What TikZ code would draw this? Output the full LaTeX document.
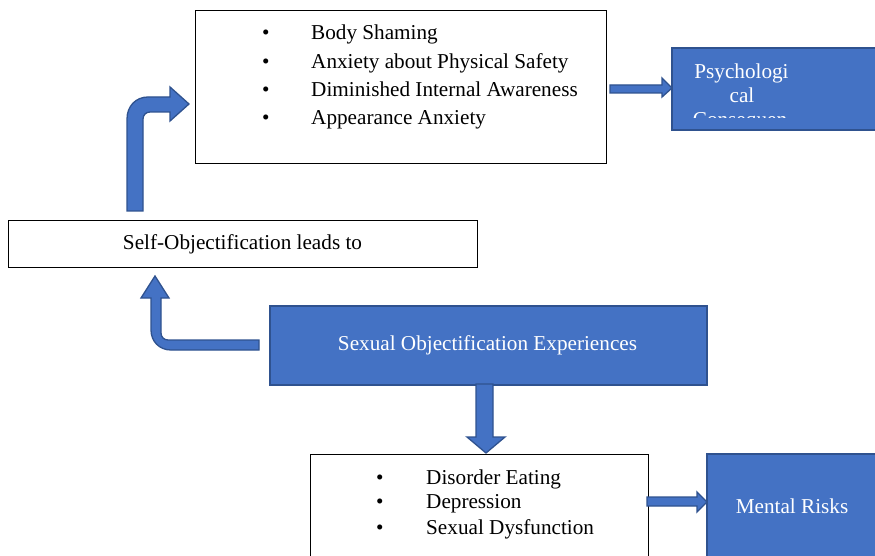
\documentclass[tikz,border=0pt]{standalone}
\usepackage{fontspec}
\setmainfont{Liberation Serif}
\definecolor{ablue}{HTML}{4472C4}
\definecolor{dblue}{HTML}{2F528F}
\begin{document}
\begin{tikzpicture}[x=1pt,y=-1pt,
  every node/.style={font=\fontsize{21.2}{28}\selectfont},
  whitebox/.style={draw=black,line width=0.9pt,fill=white,anchor=north west,inner sep=0pt},
  bluebox/.style={draw=dblue,line width=1.6pt,fill=ablue,anchor=north west,inner sep=0pt},
  blockarrow/.style={draw=dblue,line width=1.3pt,fill=ablue,line join=miter},
  txt/.style={anchor=base west,inner sep=0pt},
  wtxt/.style={text=white,inner sep=0pt}]
\useasboundingbox (0,0) rectangle (875,556);
\clip (0,0) rectangle (875,556);
\fill[white] (0,0) rectangle (875,556);

% top box
\node[whitebox,minimum width=411pt,minimum height=153pt] (top) at (195,10) {};
\node[txt] (b1) at (262,40) {•};
\node[txt] (b2) at (262,69) {•};
\node[txt] (b3) at (262,97) {•};
\node[txt] (b4) at (262,125) {•};
\node[txt] (t1) at (311,40) {Body Shaming};
\node[txt] (t2) at (311,69) {Anxiety about Physical Safety};
\node[txt] (t3) at (311,97) {Diminished Internal Awareness};
\node[txt] (t4) at (311,125) {Appearance Anxiety};

% psychological box
\node[bluebox,minimum width=215pt,minimum height=82pt] (psy) at (671,47) {};
\node[wtxt,anchor=base] (p1) at (741.5,79) {Psychologi};
\node[wtxt,anchor=base] (p2) at (742,103) {cal};
\begin{scope}
\clip (680,106) rectangle (800,118);
\node[wtxt,anchor=base] (p3) at (740,127) {Consequen};
\end{scope}

% arrow top -> psy
\draw[blockarrow] (610,85) -- (662,85) -- (662,78) -- (672,88) -- (662,97) -- (662,93) -- (610,93) -- cycle;

% self-objectification box
\node[whitebox,minimum width=469pt,minimum height=47pt] (self) at (8,220) {};
\node[anchor=center,inner sep=0pt] (selft) at (242.5,244.5) {Self-Objectification leads to};

% bent arrow self -> top
\draw[blockarrow] (127,211) -- (127,119) .. controls (127,106) and (136,97) .. (148,97) -- (170,97) -- (170,87) -- (189,104) -- (170,121) -- (170,112) -- (150,112) .. controls (146,112) and (143,115) .. (143,119) -- (143,211) -- cycle;

% sexual objectification box
\node[bluebox,minimum width=437pt,minimum height=79pt] (sex) at (269,305) {};
\node[wtxt,anchor=center] (sext) at (487.5,345.5) {Sexual Objectification Experiences};

% bent arrow sex -> self
\draw[blockarrow] (259,340) -- (168,340) .. controls (164,340) and (161,337) .. (161,333) -- (161,298) -- (169,298) -- (155,276) -- (141,298) -- (151,298) -- (151,330) .. controls (151,341) and (159,350) .. (171,350) -- (259,350) -- cycle;

% down arrow
\draw[blockarrow] (476,384) -- (493,384) -- (493,437) -- (505,437) -- (486,453) -- (467,437) -- (476,437) -- cycle;

% bottom box
\node[whitebox,minimum width=338pt,minimum height=120pt] (bot) at (310,454) {};
\node[txt] (c1) at (376,484) {•};
\node[txt] (c2) at (376,508) {•};
\node[txt] (c3) at (376,534) {•};
\node[txt] (d1) at (426,484) {Disorder Eating};
\node[txt] (d2) at (426,508) {Depression};
\node[txt] (d3) at (426,534) {Sexual Dysfunction};

% mental risks box
\node[bluebox,minimum width=180pt,minimum height=120pt] (mental) at (706,453) {};
\node[wtxt,anchor=center] (mt) at (792,506.5) {Mental Risks};

% arrow bot -> mental
\draw[blockarrow] (647,497) -- (697,497) -- (697,492) -- (707,502) -- (697,512) -- (697,506) -- (647,506) -- cycle;
\end{tikzpicture}
\end{document}
